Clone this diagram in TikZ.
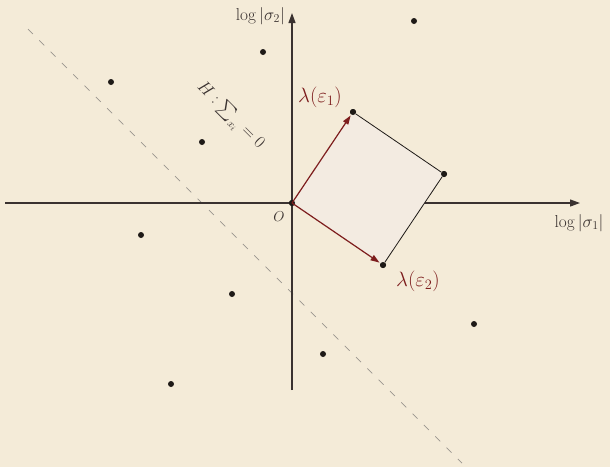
\documentclass[tikz,border=0pt]{standalone}
\usepackage{amsmath}
\usetikzlibrary{arrows.meta}
\definecolor{bgc}{HTML}{F4EBD8}
\definecolor{parc}{HTML}{F3EBE1}
\definecolor{redc}{HTML}{7D1D1D}
\definecolor{axc}{HTML}{3A3230}
\definecolor{dotc}{HTML}{1E1A17}
\definecolor{dashc}{HTML}{9A958F}
\tikzset{
  pt/.style={circle,fill=dotc,inner sep=0pt,minimum size=6pt},
  axis/.style={draw=axc,line width=1.2pt,-{Triangle[length=10pt,width=7pt]}},
  vec/.style={draw=redc,line width=1.2pt,-{Triangle[length=9pt,width=6pt]},shorten >=1pt},
  axlab/.style={font=\fontsize{17}{19}\selectfont,text=axc,inner sep=0pt},
  veclab/.style={font=\fontsize{20}{24}\selectfont,text=redc,inner sep=0pt},
}
\begin{document}
\begin{tikzpicture}[x=1pt,y=-1pt]
\fill[bgc] (0,0) rectangle (610,467);
\useasboundingbox (0,0) rectangle (610,467);
% dashed hyperplane
\coordinate (h1) at (28,29);
\coordinate (h2) at (462,463);
\draw[dashc,line width=0.7pt,dash pattern=on 7pt off 9pt] (h1) -- (h2);
% axes
\coordinate (xl) at (5,203);
\coordinate (xr) at (580,203);
\coordinate (yb) at (292,390);
\coordinate (yt) at (292,13);
\draw[axis] (xl) -- (xr);
\draw[axis] (yb) -- (yt);
% parallelogram
\node[pt] (O) at (292,203) {};
\node[pt] (e1) at (353,112) {};
\node[pt] (e2) at (383,265) {};
\node[pt] (e12) at (444,174) {};
\fill[parc] (O.center) -- (e1.center) -- (e12.center) -- (e2.center) -- cycle;
\draw[dotc,line width=0.8pt] (e1) -- (e12) -- (e2);
\node[pt] at (O) {};
\node[pt] at (e1) {};
\node[pt] at (e2) {};
\node[pt] at (e12) {};
\draw[vec] (O.center) -- (e1);
\draw[vec] (O.center) -- (e2);
% other dots
\node[pt] (p1) at (414,21) {};
\node[pt] (p2) at (263,52) {};
\node[pt] (p3) at (111,82) {};
\node[pt] (p4) at (202,142) {};
\node[pt] (p5) at (141,235) {};
\node[pt] (p6) at (232,294) {};
\node[pt] (p7) at (323,354) {};
\node[pt] (p8) at (171,384) {};
\node[pt] (p9) at (474,324) {};
% labels
\node[axlab,anchor=east] (ly) at (285,16) {$\log|\sigma_2|$};
\node[axlab] (lx) at (579,223) {$\log|\sigma_1|$};
\node[font=\fontsize{14}{16}\selectfont,text=axc,inner sep=0pt] (lo) at (279,217) {$O$};
\node[veclab] (l1) at (320,97) {$\lambda(\varepsilon_1)$};
\node[veclab] (l2) at (418,281) {$\lambda(\varepsilon_2)$};
\node[font=\fontsize{16}{18}\selectfont,text=axc,inner sep=0pt,rotate=-45] (lh) at (230,116) {$H:\sum_{x_i}=0$};
\end{tikzpicture}
\end{document}
